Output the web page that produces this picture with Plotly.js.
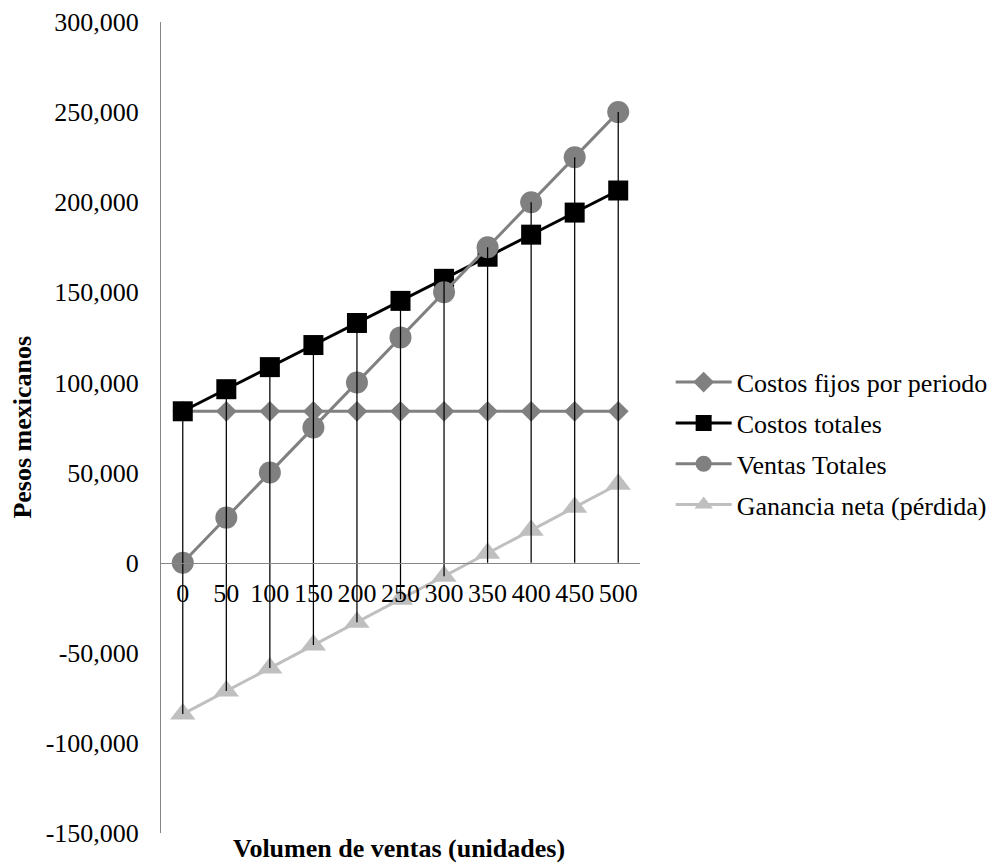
<!DOCTYPE html>
<html>
<head>
<meta charset="utf-8">
<script src="https://cdn.plot.ly/plotly-3.0.1.min.js"></script>
<style>
  html, body { margin: 0; padding: 0; background: #ffffff; }
  #chart { width: 998px; height: 865px; }
</style>
</head>
<body>
<div id="chart"></div>
<script>
// Punto de equilibrio: volumen de ventas contra pesos mexicanos
const volumen = ['0', '50', '100', '150', '200', '250', '300', '350', '400', '450', '500'];
const costosFijos = [84000, 84000, 84000, 84000, 84000, 84000, 84000, 84000, 84000, 84000, 84000];
const costosTotales = [84000, 96250, 108500, 120750, 133000, 145250, 157500, 169750, 182000, 194250, 206500];
const ventasTotales = [0, 25000, 50000, 75000, 100000, 125000, 150000, 175000, 200000, 225000, 250000];
const gananciaNeta = [-84000, -71250, -58500, -45750, -33000, -20250, -7500, 5250, 18000, 30750, 43500];

const yTickVals = [-150000, -100000, -50000, 0, 50000, 100000, 150000, 200000, 250000, 300000];
const yTickText = ['-150,000', '-100,000', '-50,000', '0', '50,000', '100,000', '150,000', '200,000', '250,000', '300,000'];

const serif = 'Liberation Serif';
const gris = '#808080';
const grisClaro = '#bfbfbf';

// Líneas de caída: de lo más alto de cada categoría hasta el eje (o al valor más bajo)
const dropX = [];
const dropY = [];
volumen.forEach((v, i) => {
  const vals = [costosFijos[i], costosTotales[i], ventasTotales[i], gananciaNeta[i]];
  const top = Math.max(0, ...vals);
  const bottom = Math.min(0, ...vals);
  dropX.push(v, v, null);
  dropY.push(top, bottom, null);
});

const traces = [
  {
    x: volumen, y: costosFijos, name: 'Costos fijos por periodo', legendgroup: 'a',
    type: 'scatter', mode: 'lines+markers',
    line: { color: gris, width: 3 },
    marker: { symbol: 'diamond', size: 16, color: gris }
  },
  {
    x: volumen, y: costosTotales, name: 'Costos totales', legendgroup: 'b',
    type: 'scatter', mode: 'lines+markers',
    line: { color: '#000000', width: 3 },
    marker: { symbol: 'square', size: 20, color: '#000000' }
  },
  {
    x: volumen, y: ventasTotales, name: 'Ventas Totales', legendgroup: 'c',
    type: 'scatter', mode: 'lines+markers',
    line: { color: gris, width: 3 },
    marker: { symbol: 'circle', size: 22, color: gris }
  },
  {
    x: volumen, y: gananciaNeta, name: 'Ganancia neta (pérdida)', legendgroup: 'd',
    type: 'scatter', mode: 'lines+markers',
    line: { color: grisClaro, width: 3 },
    marker: { symbol: 'triangle-up', size: 22, color: grisClaro }
  },
  {
    x: dropX, y: dropY, type: 'scatter', mode: 'lines',
    line: { color: '#000000', width: 1.25 },
    showlegend: false, hoverinfo: 'skip'
  }
];

const layout = {
  width: 998,
  height: 865,
  margin: { l: 161, r: 358, t: 22, b: 32, autoexpand: false },
  paper_bgcolor: '#ffffff',
  plot_bgcolor: '#ffffff',
  font: { family: serif, size: 26, color: '#000000' },
  showlegend: true,
  xaxis: {
    type: 'category',
    categoryorder: 'array',
    categoryarray: volumen,
    range: [-0.5, 10.5],
    anchor: 'free',
    position: 1 / 3,
    showgrid: false,
    zeroline: false,
    showline: true,
    linecolor: '#868686',
    linewidth: 1,
    ticks: '',
    ticklabelstandoff: 7,
    tickfont: { family: serif, size: 26, color: '#000000' },
    fixedrange: true
  },
  yaxis: {
    range: [-150000, 300000],
    tickvals: yTickVals,
    ticktext: yTickText,
    showgrid: false,
    zeroline: false,
    showline: true,
    linecolor: '#868686',
    linewidth: 1,
    ticks: '',
    ticklabelstandoff: 16,
    tickfont: { family: serif, size: 26, color: '#000000' },
    fixedrange: true
  },
  legend: {
    x: 1.064, xanchor: 'left',
    y: 0.48, yanchor: 'middle',
    font: { family: serif, size: 26, color: '#000000' },
    itemwidth: 56,
    traceorder: 'grouped',
    tracegroupgap: 4,
    bgcolor: 'rgba(0,0,0,0)'
  },
  annotations: [
    {
      text: '<b>Pesos mexicanos</b>', xref: 'paper', yref: 'paper',
      x: -0.29, y: 0.5, xanchor: 'center', yanchor: 'middle',
      textangle: -90, showarrow: false,
      font: { family: serif, size: 26, color: '#000000' }
    },
    {
      text: '<b>Volumen de ventas (unidades)</b>', xref: 'paper', yref: 'paper',
      x: 0.497, y: -0.0185, xanchor: 'center', yanchor: 'middle',
      showarrow: false,
      font: { family: serif, size: 26, color: '#000000' }
    }
  ]
};

Plotly.newPlot('chart', traces, layout, { displayModeBar: false, staticPlot: true });
</script>
</body>
</html>
